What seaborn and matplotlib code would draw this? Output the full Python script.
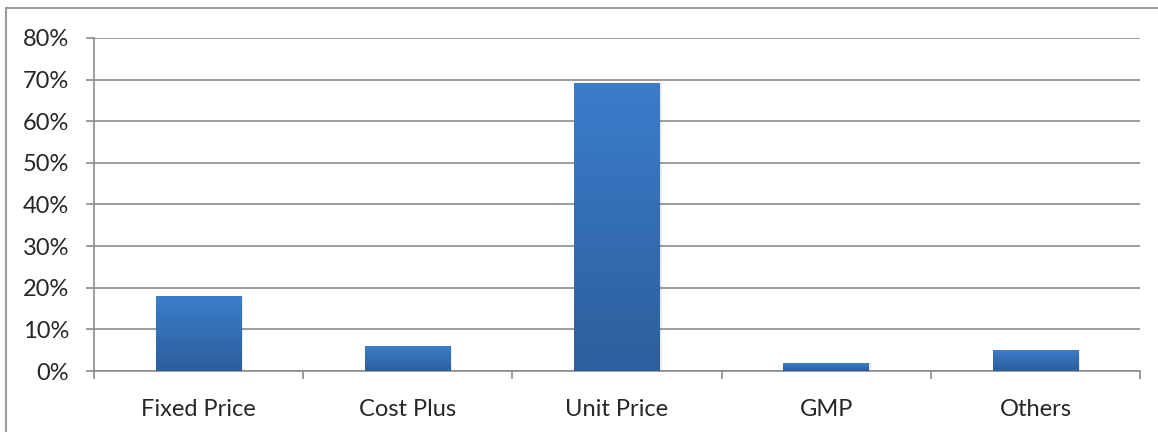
import matplotlib
matplotlib.use("Agg")
import matplotlib.pyplot as plt
import matplotlib.ticker as ticker
from matplotlib.colors import LinearSegmentedColormap
from matplotlib.lines import Line2D
import numpy as np
import pandas as pd
import seaborn as sns

categories = ["Fixed Price", "Cost Plus", "Unit Price", "GMP", "Others"]
shares = [18.0, 6.0, 69.2, 1.9, 5.0]
y_ticks = [0, 10, 20, 30, 40, 50, 60, 70, 80]

df = pd.DataFrame({"type": categories, "share": shares})

sns.set_style("white")
plt.rcParams["font.family"] = ["Lato", "DejaVu Sans"]

fig = plt.figure(figsize=(11.58, 4.32), dpi=100)
ax = fig.add_axes([94 / 1158, 1 - 371 / 432, (1140 - 94) / 1158, (371 - 38) / 432])

sns.barplot(data=df, x="type", y="share", color="#3a7bc8", width=0.41,
            saturation=1, linewidth=0, edgecolor="none", ax=ax, zorder=3)

# vertical gradient fill on each bar, lighter on top
cmap = LinearSegmentedColormap.from_list("bar", ["#2d5e9c", "#3b7dcb"])
grad = np.linspace(0, 1, 256).reshape(-1, 1)
for p in list(ax.patches):
    x0, y0 = p.get_x(), p.get_y()
    w, h = p.get_width(), p.get_height()
    # soft shadow
    ax.add_patch(plt.Rectangle((x0 + 0.008, y0), w, h, color="#000000",
                               alpha=0.07, lw=0, zorder=2))
    im = ax.imshow(grad, extent=[x0, x0 + w, y0, y0 + h], origin="lower",
                   cmap=cmap, aspect="auto", zorder=3.5)
    im.set_clip_path(p)

ax.set_xlim(-0.5, len(categories) - 0.5)
ax.set_ylim(0, 80)
ax.set_yticks(y_ticks)
ax.yaxis.set_major_formatter(ticker.FuncFormatter(lambda v, _: f"{v:.0f}%"))
ax.grid(axis="y", color="#8c8c8c", linewidth=1.2, zorder=0)
ax.set_axisbelow(True)

# x tick marks on category boundaries
ax.set_xticks(range(len(categories)))
ax.set_xticklabels(categories)
ax.set_xticks(np.arange(-0.5, len(categories), 1), minor=True)
ax.tick_params(axis="x", which="major", length=0, pad=20, labelsize=17)
ax.tick_params(axis="x", which="minor", length=6, width=1.2, color="#8c8c8c",
               direction="out", bottom=True)
ax.tick_params(axis="y", length=6, width=1.2, color="#8c8c8c", direction="out",
               left=True, pad=12, labelsize=17)
ax.set_xlabel("")
ax.set_ylabel("")

for side in ["top", "right"]:
    ax.spines[side].set_visible(False)
for side in ["left", "bottom"]:
    ax.spines[side].set_color("#8c8c8c")
    ax.spines[side].set_linewidth(1.2)

# outer frame (only left and top edges fall inside the image)
fig.add_artist(Line2D([5.5 / 1158, 5.5 / 1158], [0, 1 - 8 / 432],
                      color="#9a9a9a", lw=1.5))
fig.add_artist(Line2D([5.5 / 1158, 1], [1 - 8 / 432, 1 - 8 / 432],
                      color="#9a9a9a", lw=1.5))

fig.savefig("out.png", dpi=100)
